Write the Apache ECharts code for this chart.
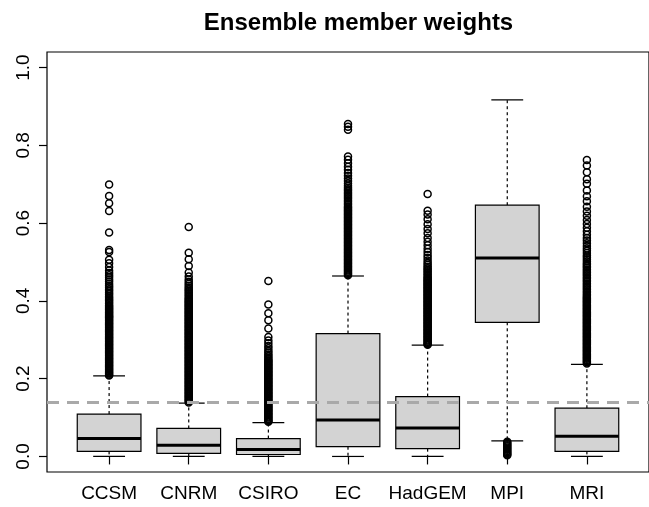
<!DOCTYPE html>
<html>
<head>
<meta charset="utf-8">
<script src="https://cdn.jsdelivr.net/npm/echarts@6/dist/echarts.min.js"></script>
<style>
  html, body { margin: 0; padding: 0; background: #fff; }
  #chart { width: 649px; height: 507px; }
</style>
</head>
<body>
<div id="chart"></div>
<script>
// Ensemble members and their weight distributions (box statistics)
const models = ['CCSM', 'CNRM', 'CSIRO', 'EC', 'HadGEM', 'MPI', 'MRI'];
const whiskerLow  = [0.000, 0.000, 0.000, 0.000, 0.000, 0.040, 0.000];
const q1          = [0.013, 0.008, 0.005, 0.025, 0.020, 0.345, 0.013];
const median      = [0.046, 0.029, 0.018, 0.094, 0.073, 0.510, 0.052];
const q3          = [0.109, 0.072, 0.046, 0.316, 0.154, 0.646, 0.124];
const whiskerHigh = [0.207, 0.137, 0.087, 0.464, 0.286, 0.917, 0.237];
const yTicks = [0, 0.2, 0.4, 0.6, 0.8, 1.0];
const equalWeight = 1 / 7;

// Points beyond the whiskers
const ccsmOut = [0.699,0.670,0.651,0.631,0.576,0.531,0.526,0.506,0.497,0.487,0.478,0.472,0.466,0.461,0.455,0.450,0.444,0.439,0.435,0.430,0.426,0.421,0.417,0.412,0.408,0.404,0.401,0.397,0.393,0.389,0.386,0.383,0.380,0.377,0.374,0.371,0.368,0.365,0.362,0.359,0.357,0.354,0.351,0.348,0.345,0.342,0.339,0.336,0.333,0.330,0.327,0.324,0.321,0.318,0.315,0.312,0.309,0.306,0.303,0.300,0.297,0.294,0.291,0.288,0.285,0.282,0.279,0.276,0.273,0.270,0.267,0.264,0.261,0.258,0.255,0.252,0.249,0.246,0.243,0.240,0.237,0.234,0.231,0.228,0.225,0.222,0.219,0.216,0.213,0.210,0.208];
const cnrmOut = [0.590,0.524,0.507,0.490,0.473,0.463,0.455,0.449,0.444,0.439,0.434,0.430,0.426,0.422,0.418,0.414,0.410,0.406,0.403,0.400,0.397,0.394,0.391,0.388,0.385,0.382,0.379,0.376,0.373,0.370,0.367,0.364,0.361,0.358,0.355,0.352,0.349,0.346,0.343,0.340,0.337,0.334,0.331,0.328,0.325,0.322,0.319,0.316,0.313,0.310,0.307,0.304,0.301,0.298,0.295,0.292,0.289,0.286,0.283,0.280,0.277,0.274,0.271,0.268,0.265,0.262,0.259,0.256,0.253,0.250,0.247,0.244,0.241,0.238,0.235,0.232,0.229,0.226,0.223,0.220,0.217,0.214,0.211,0.208,0.205,0.202,0.199,0.196,0.193,0.190,0.187,0.184,0.181,0.178,0.175,0.172,0.169,0.166,0.163,0.160,0.157,0.154,0.151,0.148,0.145,0.142,0.139];
const csiroOut = [0.451,0.391,0.368,0.350,0.329,0.307,0.298,0.291,0.284,0.278,0.272,0.267,0.262,0.258,0.254,0.250,0.247,0.244,0.241,0.238,0.235,0.232,0.229,0.226,0.223,0.220,0.217,0.214,0.211,0.208,0.205,0.202,0.199,0.196,0.193,0.190,0.187,0.184,0.181,0.178,0.175,0.172,0.169,0.166,0.163,0.160,0.157,0.154,0.151,0.148,0.145,0.142,0.139,0.136,0.133,0.130,0.127,0.124,0.121,0.118,0.115,0.112,0.109,0.106,0.103,0.100,0.097,0.094,0.091,0.089];
const ecOut = [0.855,0.848,0.840,0.771,0.763,0.754,0.745,0.737,0.729,0.722,0.715,0.708,0.702,0.696,0.691,0.687,0.683,0.679,0.675,0.671,0.667,0.663,0.659,0.655,0.651,0.647,0.643,0.640,0.637,0.634,0.631,0.628,0.625,0.622,0.619,0.616,0.613,0.610,0.607,0.604,0.601,0.598,0.595,0.592,0.589,0.586,0.583,0.580,0.577,0.574,0.571,0.568,0.565,0.562,0.559,0.556,0.553,0.550,0.547,0.544,0.541,0.538,0.535,0.532,0.529,0.526,0.523,0.520,0.517,0.514,0.511,0.508,0.505,0.502,0.499,0.496,0.493,0.490,0.487,0.484,0.481,0.478,0.475,0.472,0.469,0.466];
const hadgemOut = [0.675,0.632,0.622,0.610,0.597,0.585,0.574,0.562,0.552,0.543,0.534,0.526,0.518,0.511,0.504,0.498,0.493,0.488,0.484,0.480,0.476,0.472,0.468,0.464,0.460,0.457,0.454,0.451,0.448,0.445,0.442,0.439,0.436,0.433,0.430,0.427,0.424,0.421,0.418,0.415,0.412,0.409,0.406,0.403,0.400,0.397,0.394,0.391,0.388,0.385,0.382,0.379,0.376,0.373,0.370,0.367,0.364,0.361,0.358,0.355,0.352,0.349,0.346,0.343,0.340,0.337,0.334,0.331,0.328,0.325,0.322,0.319,0.316,0.313,0.310,0.307,0.304,0.301,0.298,0.295,0.292,0.289,0.287];
const mpiOut = [0.038,0.035,0.032,0.029,0.026,0.023,0.020,0.017,0.014,0.011,0.008,0.005,0.003];
const mriOut = [0.762,0.748,0.731,0.713,0.701,0.684,0.669,0.656,0.642,0.630,0.619,0.608,0.598,0.588,0.579,0.570,0.562,0.555,0.548,0.541,0.535,0.529,0.523,0.517,0.512,0.507,0.502,0.497,0.493,0.489,0.485,0.481,0.477,0.473,0.469,0.465,0.461,0.457,0.453,0.449,0.445,0.441,0.437,0.433,0.429,0.425,0.421,0.417,0.413,0.410,0.407,0.404,0.401,0.398,0.395,0.392,0.389,0.386,0.383,0.380,0.377,0.374,0.371,0.368,0.365,0.362,0.359,0.356,0.353,0.350,0.347,0.344,0.341,0.338,0.335,0.332,0.329,0.326,0.323,0.320,0.317,0.314,0.311,0.308,0.305,0.302,0.299,0.296,0.293,0.290,0.287,0.284,0.281,0.278,0.275,0.272,0.269,0.266,0.263,0.260,0.257,0.254,0.251,0.248,0.245,0.242,0.239];
const outliers = [ccsmOut, cnrmOut, csiroOut, ecOut, hadgemOut, mpiOut, mriOut];

const FONT = '"Liberation Sans", Arial, Helvetica, sans-serif';
const GRID_LEFT = 47, GRID_TOP = 52, GRID_W = 613, GRID_H = 420;

const boxData = models.map((m, i) => [i + 1, whiskerLow[i], q1[i], median[i], q3[i], whiskerHigh[i]]);
const outlierData = [];
outliers.forEach((arr, i) => arr.forEach(v => outlierData.push([i + 1, v])));

function renderBox(params, api) {
  const x = api.value(0);
  const lo = api.value(1), b1 = api.value(2), md = api.value(3), b3 = api.value(4), hi = api.value(5);
  const cx = api.coord([x, 0])[0];
  const xl = api.coord([x - 0.4, 0])[0], xr = api.coord([x + 0.4, 0])[0];
  const cl = api.coord([x - 0.2, 0])[0], cr = api.coord([x + 0.2, 0])[0];
  const y = v => api.coord([x, v])[1];
  const thin = { stroke: '#000', lineWidth: 1.2, fill: null };
  const dashed = { stroke: '#000', lineWidth: 1.2, lineDash: [3, 3], fill: null };
  return {
    type: 'group',
    children: [
      { type: 'line', shape: { x1: cx, y1: y(b3), x2: cx, y2: y(hi) }, style: dashed },
      { type: 'line', shape: { x1: cx, y1: y(b1), x2: cx, y2: y(lo) }, style: dashed },
      { type: 'line', shape: { x1: cl, y1: y(hi), x2: cr, y2: y(hi) }, style: thin },
      { type: 'line', shape: { x1: cl, y1: y(lo), x2: cr, y2: y(lo) }, style: thin },
      { type: 'rect', shape: { x: xl, y: y(b3), width: xr - xl, height: y(b1) - y(b3) },
        style: { fill: '#d3d3d3', stroke: '#000', lineWidth: 1.2 } },
      { type: 'line', shape: { x1: xl, y1: y(md), x2: xr, y2: y(md) }, style: { stroke: '#000', lineWidth: 3 } }
    ]
  };
}

const chart = echarts.init(document.getElementById('chart'), null, { renderer: 'canvas' });
chart.setOption({
  animation: false,
  backgroundColor: '#fff',
  title: {
    text: 'Ensemble member weights',
    left: GRID_LEFT + GRID_W / 2,
    textAlign: 'center',
    top: 6,
    textStyle: { fontFamily: FONT, fontSize: 24, fontWeight: 'bold', color: '#000' }
  },
  grid: {
    show: true, left: GRID_LEFT, top: GRID_TOP, width: GRID_W, height: GRID_H,
    borderColor: '#000', borderWidth: 1.2, backgroundColor: 'transparent'
  },
  xAxis: {
    type: 'value', min: 0.22, max: 7.78,
    splitLine: { show: false },
    axisLine: { show: false },
    axisTick: { show: true, length: 8, inside: false, customValues: models.map((m, i) => i + 1),
      lineStyle: { color: '#000', width: 1.2 } },
    axisLabel: { show: true, customValues: models.map((m, i) => i + 1), margin: 12,
      formatter: v => models[Math.round(v) - 1] || '',
      fontFamily: FONT, fontSize: 19, color: '#000' }
  },
  yAxis: {
    type: 'value', min: -0.04, max: 1.04,
    splitLine: { show: false },
    axisLine: { show: false },
    axisTick: { show: true, length: 8, inside: false, customValues: yTicks,
      lineStyle: { color: '#000', width: 1.2 } },
    axisLabel: { show: true, customValues: yTicks, rotate: 90, margin: 14,
      formatter: v => v.toFixed(1),
      fontFamily: FONT, fontSize: 19, color: '#000' }
  },
  series: [
    {
      type: 'custom', name: 'boxes', data: boxData, renderItem: renderBox,
      encode: { x: 0, y: [1, 2, 3, 4, 5] }, z: 2, silent: true
    },
    {
      type: 'scatter', name: 'outliers', data: outlierData, symbol: 'circle', symbolSize: 7,
      itemStyle: { color: 'rgba(0,0,0,0)', borderColor: '#000', borderWidth: 1.5, opacity: 1 },
      z: 3, silent: true,
      markLine: {
        silent: true, symbol: 'none', label: { show: false },
        lineStyle: { color: '#a9a9a9', width: 3, type: [12, 8] },
        data: [{ yAxis: equalWeight }]
      }
    }
  ]
});
</script>
</body>
</html>
